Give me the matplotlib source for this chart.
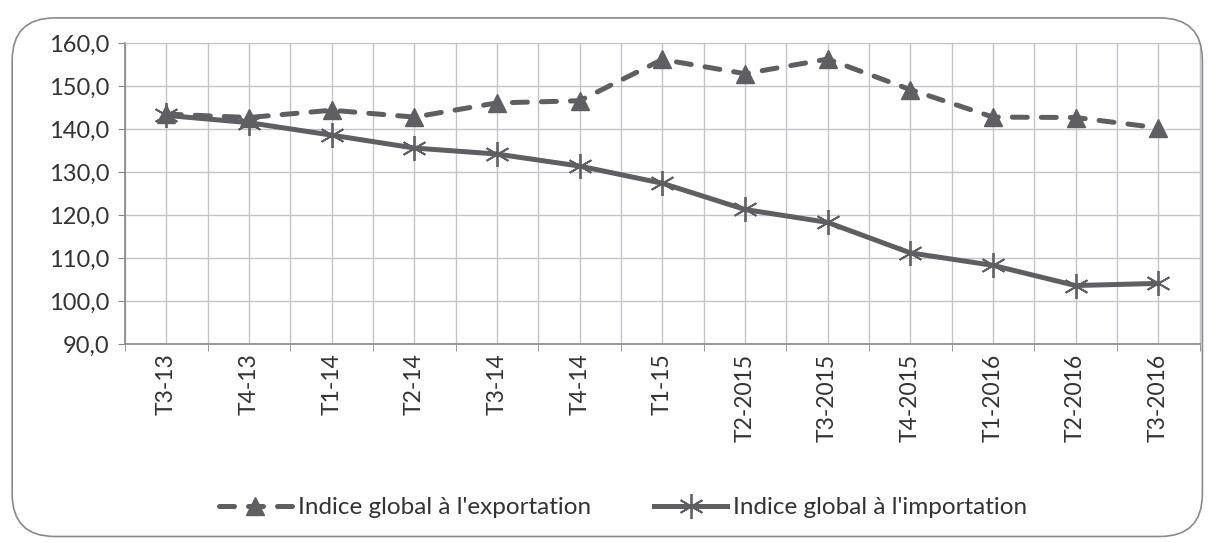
import matplotlib.pyplot as plt
from matplotlib.patches import FancyBboxPatch
from matplotlib.ticker import FuncFormatter, MultipleLocator

plt.rcParams['font.family'] = ['Lato', 'DejaVu Sans']

quarters = ['T3-13', 'T4-13', 'T1-14', 'T2-14', 'T3-14', 'T4-14', 'T1-15',
            'T2-2015', 'T3-2015', 'T4-2015', 'T1-2016', 'T2-2016', 'T3-2016']
export_idx = [143.5, 142.7, 144.4, 142.8, 146.1, 146.6, 156.2,
              152.9, 156.3, 149.2, 142.8, 142.7, 140.3]
import_idx = [143.2, 141.5, 138.6, 135.6, 134.2, 131.4, 127.4,
              121.3, 118.3, 111.2, 108.3, 103.6, 104.1]

grey = '#5f5f63'
grid_col = '#c4c4cc'
text_col = '#333333'

fig = plt.figure(figsize=(12.17, 5.43), dpi=100)
frame = FancyBboxPatch((0.010, 0.012), 0.978, 0.955,
                       boxstyle='round,pad=0,rounding_size=0.035',
                       transform=fig.transFigure, facecolor='none',
                       edgecolor='#8a8a8a', linewidth=1.2,
                       mutation_aspect=1217 / 543, zorder=10)
fig.patches.append(frame)

ax = fig.add_axes([0.1027, 0.3665, 0.883, 0.554])
ax.patch.set_alpha(0)
x = list(range(len(quarters)))

ax.plot(x, export_idx, color=grey, linewidth=3.6, linestyle=(0, (3.0, 2.8)),
        dash_capstyle='round', marker='^', markersize=13, markerfacecolor=grey,
        markeredgecolor=grey, label="Indice global à l'exportation", zorder=3)
ax.plot(x, import_idx, color=grey, linewidth=3.6, marker=(6, 2, 0),
        markersize=18, markeredgewidth=1.3, markeredgecolor=grey,
        label="Indice global à l'importation", zorder=3)

ax.set_xlim(-0.5, len(quarters) - 0.5)
ax.set_ylim(90, 160)
ax.yaxis.set_major_locator(MultipleLocator(10))
ax.yaxis.set_major_formatter(FuncFormatter(lambda v, p: f'{v:.1f}'.replace('.', ',')))

ax.set_xticks(x)
ax.set_xticklabels(quarters, rotation=90, fontsize=16.5, color=text_col)
ax.set_xticks([i - 0.5 for i in range(len(quarters) + 1)], minor=True)
ax.tick_params(axis='x', which='major', length=0, pad=7)
ax.tick_params(axis='x', which='minor', length=5, color='#888888')
ax.tick_params(axis='y', labelsize=17, colors=text_col, length=5,
               color='#888888', pad=6)

ax.grid(True, which='major', axis='both', color=grid_col, linewidth=1.0)
ax.grid(True, which='minor', axis='x', color=grid_col, linewidth=1.0)
ax.set_axisbelow(True)

for side in ['top', 'right']:
    ax.spines[side].set_color(grid_col)
for side in ['left', 'bottom']:
    ax.spines[side].set_color('#888888')
    ax.spines[side].set_linewidth(1.2)

fig.legend(loc='center', bbox_to_anchor=(0.512, 0.065), ncol=2, frameon=False,
           fontsize=17.5, handlelength=3.0, handletextpad=0.25,
           columnspacing=2.6, labelcolor=text_col)

fig.savefig('out.png', dpi=100)
